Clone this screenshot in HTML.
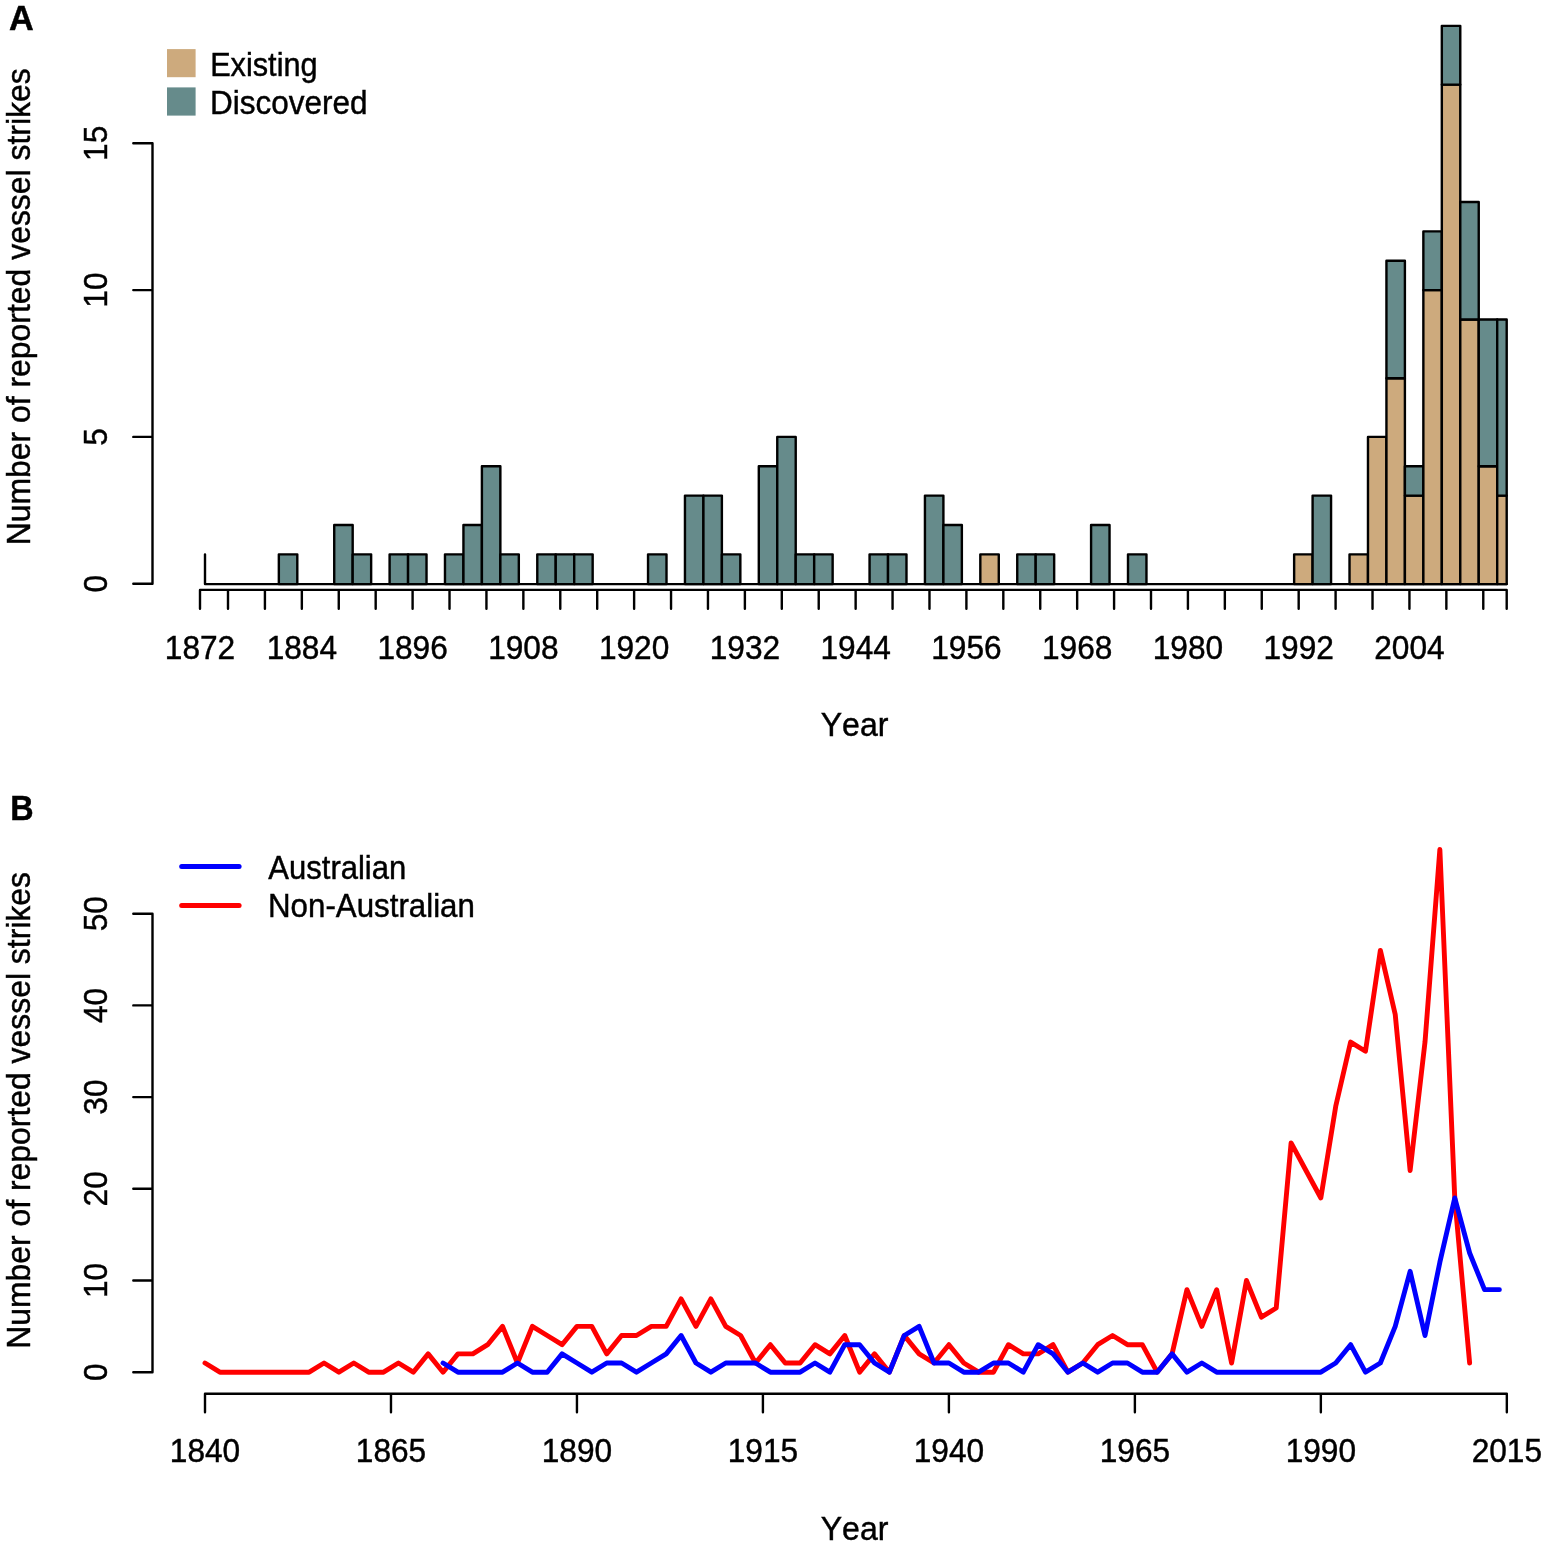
<!DOCTYPE html>
<html lang="en"><head><meta charset="utf-8"><title>Reported vessel strikes</title>
<style>html,body{margin:0;padding:0;background:#fff}svg{display:block}</style></head>
<body><svg width="1547" height="1546" viewBox="0 0 1547 1546">
<rect width="1547" height="1546" fill="#fff"/>
<g stroke="#000" stroke-width="2.4" stroke-linejoin="round" stroke-linecap="round">
<path d="M205.0 554.34V584.1H1506.7" fill="none"/>
<rect x="278.84" y="554.34" width="18.46" height="29.76" fill="#668B8B"/>
<rect x="334.22" y="524.98" width="18.46" height="59.12" fill="#668B8B"/>
<rect x="352.68" y="554.34" width="18.46" height="29.76" fill="#668B8B"/>
<rect x="389.60" y="554.34" width="18.46" height="29.76" fill="#668B8B"/>
<rect x="408.06" y="554.34" width="18.46" height="29.76" fill="#668B8B"/>
<rect x="444.98" y="554.34" width="18.46" height="29.76" fill="#668B8B"/>
<rect x="463.44" y="524.98" width="18.46" height="59.12" fill="#668B8B"/>
<rect x="481.90" y="466.26" width="18.46" height="117.84" fill="#668B8B"/>
<rect x="500.36" y="554.34" width="18.46" height="29.76" fill="#668B8B"/>
<rect x="537.28" y="554.34" width="18.46" height="29.76" fill="#668B8B"/>
<rect x="555.74" y="554.34" width="18.46" height="29.76" fill="#668B8B"/>
<rect x="574.20" y="554.34" width="18.46" height="29.76" fill="#668B8B"/>
<rect x="648.04" y="554.34" width="18.46" height="29.76" fill="#668B8B"/>
<rect x="684.96" y="495.62" width="18.46" height="88.48" fill="#668B8B"/>
<rect x="703.42" y="495.62" width="18.46" height="88.48" fill="#668B8B"/>
<rect x="721.88" y="554.34" width="18.46" height="29.76" fill="#668B8B"/>
<rect x="758.80" y="466.26" width="18.46" height="117.84" fill="#668B8B"/>
<rect x="777.26" y="436.90" width="18.46" height="147.20" fill="#668B8B"/>
<rect x="795.72" y="554.34" width="18.46" height="29.76" fill="#668B8B"/>
<rect x="814.18" y="554.34" width="18.46" height="29.76" fill="#668B8B"/>
<rect x="869.56" y="554.34" width="18.46" height="29.76" fill="#668B8B"/>
<rect x="888.02" y="554.34" width="18.46" height="29.76" fill="#668B8B"/>
<rect x="924.94" y="495.62" width="18.46" height="88.48" fill="#668B8B"/>
<rect x="943.40" y="524.98" width="18.46" height="59.12" fill="#668B8B"/>
<rect x="980.32" y="554.34" width="18.46" height="29.76" fill="#CDAA7D"/>
<rect x="1017.24" y="554.34" width="18.46" height="29.76" fill="#668B8B"/>
<rect x="1035.70" y="554.34" width="18.46" height="29.76" fill="#668B8B"/>
<rect x="1091.08" y="524.98" width="18.46" height="59.12" fill="#668B8B"/>
<rect x="1128.00" y="554.34" width="18.46" height="29.76" fill="#668B8B"/>
<rect x="1294.14" y="554.34" width="18.46" height="29.76" fill="#CDAA7D"/>
<rect x="1312.60" y="495.62" width="18.46" height="88.48" fill="#668B8B"/>
<rect x="1349.52" y="554.34" width="18.46" height="29.76" fill="#CDAA7D"/>
<rect x="1367.98" y="436.90" width="18.46" height="147.20" fill="#CDAA7D"/>
<rect x="1386.44" y="378.18" width="18.46" height="205.92" fill="#CDAA7D"/>
<rect x="1386.44" y="260.74" width="18.46" height="117.44" fill="#668B8B"/>
<rect x="1404.90" y="495.62" width="18.46" height="88.48" fill="#CDAA7D"/>
<rect x="1404.90" y="466.26" width="18.46" height="29.36" fill="#668B8B"/>
<rect x="1423.36" y="290.10" width="18.46" height="294.00" fill="#CDAA7D"/>
<rect x="1423.36" y="231.38" width="18.46" height="58.72" fill="#668B8B"/>
<rect x="1441.82" y="84.58" width="18.46" height="499.52" fill="#CDAA7D"/>
<rect x="1441.82" y="25.86" width="18.46" height="58.72" fill="#668B8B"/>
<rect x="1460.28" y="319.46" width="18.46" height="264.64" fill="#CDAA7D"/>
<rect x="1460.28" y="202.02" width="18.46" height="117.44" fill="#668B8B"/>
<rect x="1478.74" y="466.26" width="18.46" height="117.84" fill="#CDAA7D"/>
<rect x="1478.74" y="319.46" width="18.46" height="146.80" fill="#668B8B"/>
<rect x="1497.20" y="495.62" width="9.50" height="88.48" fill="#CDAA7D"/>
<rect x="1497.20" y="319.46" width="9.50" height="176.16" fill="#668B8B"/>
</g>
<g stroke="#000" stroke-width="2.4" fill="none" stroke-linecap="round" stroke-linejoin="round">
<path d="M152.5 143.30V583.7M133.3 583.70H152.5M133.3 436.90H152.5M133.3 290.10H152.5M133.3 143.30H152.5"/>
<path d="M200 589.9H1506.7M200.00 589.9V608.8M228.00 589.9V608.8M264.92 589.9V608.8M301.84 589.9V608.8M338.76 589.9V608.8M375.68 589.9V608.8M412.60 589.9V608.8M449.52 589.9V608.8M486.44 589.9V608.8M523.36 589.9V608.8M560.28 589.9V608.8M597.20 589.9V608.8M634.12 589.9V608.8M671.04 589.9V608.8M707.96 589.9V608.8M744.88 589.9V608.8M781.80 589.9V608.8M818.72 589.9V608.8M855.64 589.9V608.8M892.56 589.9V608.8M929.48 589.9V608.8M966.40 589.9V608.8M1003.32 589.9V608.8M1040.24 589.9V608.8M1077.16 589.9V608.8M1114.08 589.9V608.8M1151.00 589.9V608.8M1187.92 589.9V608.8M1224.84 589.9V608.8M1261.76 589.9V608.8M1298.68 589.9V608.8M1335.60 589.9V608.8M1372.52 589.9V608.8M1409.44 589.9V608.8M1446.36 589.9V608.8M1483.28 589.9V608.8M1506.70 589.9V608.8"/>
</g>
<g font-family='"Liberation Sans", Arial, Helvetica, sans-serif' font-size="32.5" fill="#000" stroke="#000" stroke-width="0.45" style="font-kerning:none">
<text x="9.07" y="29.90" font-size="34.3" font-weight="bold" textLength="24.74" lengthAdjust="spacingAndGlyphs">A</text>
<text x="210.17" y="75.80" textLength="107.44" lengthAdjust="spacingAndGlyphs">Existing</text>
<text x="210.11" y="114.20" textLength="157.48" lengthAdjust="spacingAndGlyphs">Discovered</text>
<text transform="translate(107.30 583.70) rotate(-90)" text-anchor="middle" font-size="33.5" textLength="17.59" lengthAdjust="spacingAndGlyphs">0</text>
<text transform="translate(107.30 436.90) rotate(-90)" text-anchor="middle" font-size="33.5" textLength="17.59" lengthAdjust="spacingAndGlyphs">5</text>
<text transform="translate(107.30 290.10) rotate(-90)" text-anchor="middle" font-size="33.5" textLength="35.18" lengthAdjust="spacingAndGlyphs">10</text>
<text transform="translate(107.30 143.30) rotate(-90)" text-anchor="middle" font-size="33.5" textLength="35.18" lengthAdjust="spacingAndGlyphs">15</text>
<text transform="translate(30.10 545.33) rotate(-90)" textLength="477.03" lengthAdjust="spacingAndGlyphs">Number of reported vessel strikes</text>
<text x="200.00" y="659.00" text-anchor="middle" font-size="33.5" textLength="70.35" lengthAdjust="spacingAndGlyphs">1872</text>
<text x="301.84" y="659.00" text-anchor="middle" font-size="33.5" textLength="70.35" lengthAdjust="spacingAndGlyphs">1884</text>
<text x="412.60" y="659.00" text-anchor="middle" font-size="33.5" textLength="70.35" lengthAdjust="spacingAndGlyphs">1896</text>
<text x="523.36" y="659.00" text-anchor="middle" font-size="33.5" textLength="70.35" lengthAdjust="spacingAndGlyphs">1908</text>
<text x="634.12" y="659.00" text-anchor="middle" font-size="33.5" textLength="70.35" lengthAdjust="spacingAndGlyphs">1920</text>
<text x="744.88" y="659.00" text-anchor="middle" font-size="33.5" textLength="70.35" lengthAdjust="spacingAndGlyphs">1932</text>
<text x="855.64" y="659.00" text-anchor="middle" font-size="33.5" textLength="70.35" lengthAdjust="spacingAndGlyphs">1944</text>
<text x="966.40" y="659.00" text-anchor="middle" font-size="33.5" textLength="70.35" lengthAdjust="spacingAndGlyphs">1956</text>
<text x="1077.16" y="659.00" text-anchor="middle" font-size="33.5" textLength="70.35" lengthAdjust="spacingAndGlyphs">1968</text>
<text x="1187.92" y="659.00" text-anchor="middle" font-size="33.5" textLength="70.35" lengthAdjust="spacingAndGlyphs">1980</text>
<text x="1298.68" y="659.00" text-anchor="middle" font-size="33.5" textLength="70.35" lengthAdjust="spacingAndGlyphs">1992</text>
<text x="1409.44" y="659.00" text-anchor="middle" font-size="33.5" textLength="70.35" lengthAdjust="spacingAndGlyphs">2004</text>
<text x="820.72" y="736.20" textLength="67.66" lengthAdjust="spacingAndGlyphs">Year</text>
</g>
<rect x="167" y="49.1" width="28.6" height="28.1" fill="#CDAA7D"/>
<rect x="167" y="87.4" width="28.6" height="28.2" fill="#668B8B"/>
<polyline points="205.00,1363.03 219.88,1372.20 234.76,1372.20 249.63,1372.20 264.51,1372.20 279.39,1372.20 294.27,1372.20 309.15,1372.20 324.02,1363.03 338.90,1372.20 353.78,1363.03 368.66,1372.20 383.54,1372.20 398.41,1363.03 413.29,1372.20 428.17,1353.86 443.05,1372.20 457.93,1353.86 472.80,1353.86 487.68,1344.69 502.56,1326.35 517.44,1363.03 532.32,1326.35 547.19,1335.52 562.07,1344.69 576.95,1326.35 591.83,1326.35 606.71,1353.86 621.58,1335.52 636.46,1335.52 651.34,1326.35 666.22,1326.35 681.10,1298.84 695.97,1326.35 710.85,1298.84 725.73,1326.35 740.61,1335.52 755.49,1363.03 770.36,1344.69 785.24,1363.03 800.12,1363.03 815.00,1344.69 829.88,1353.86 844.75,1335.52 859.63,1372.20 874.51,1353.86 889.39,1372.20 904.27,1335.52 919.14,1353.86 934.02,1363.03 948.90,1344.69 963.78,1363.03 978.66,1372.20 993.53,1372.20 1008.41,1344.69 1023.29,1353.86 1038.17,1353.86 1053.05,1344.69 1067.92,1372.20 1082.80,1363.03 1097.68,1344.69 1112.56,1335.52 1127.44,1344.69 1142.31,1344.69 1157.19,1372.20 1172.07,1353.86 1186.95,1289.67 1201.83,1326.35 1216.70,1289.67 1231.58,1363.03 1246.46,1280.50 1261.34,1317.18 1276.22,1308.01 1291.09,1142.95 1305.97,1170.46 1320.85,1197.97 1335.73,1106.27 1350.61,1042.08 1365.48,1051.25 1380.36,950.38 1395.24,1014.57 1410.12,1170.46 1425.00,1042.08 1439.87,849.51 1454.75,1197.97 1469.63,1363.03" fill="none" stroke="#FF0000" stroke-width="4.9" stroke-linejoin="round" stroke-linecap="round"/>
<polyline points="443.05,1363.03 457.93,1372.20 472.80,1372.20 487.68,1372.20 502.56,1372.20 517.44,1363.03 532.32,1372.20 547.19,1372.20 562.07,1353.86 576.95,1363.03 591.83,1372.20 606.71,1363.03 621.58,1363.03 636.46,1372.20 651.34,1363.03 666.22,1353.86 681.10,1335.52 695.97,1363.03 710.85,1372.20 725.73,1363.03 740.61,1363.03 755.49,1363.03 770.36,1372.20 785.24,1372.20 800.12,1372.20 815.00,1363.03 829.88,1372.20 844.75,1344.69 859.63,1344.69 874.51,1363.03 889.39,1372.20 904.27,1335.52 919.14,1326.35 934.02,1363.03 948.90,1363.03 963.78,1372.20 978.66,1372.20 993.53,1363.03 1008.41,1363.03 1023.29,1372.20 1038.17,1344.69 1053.05,1353.86 1067.92,1372.20 1082.80,1363.03 1097.68,1372.20 1112.56,1363.03 1127.44,1363.03 1142.31,1372.20 1157.19,1372.20 1172.07,1353.86 1186.95,1372.20 1201.83,1363.03 1216.70,1372.20 1231.58,1372.20 1246.46,1372.20 1261.34,1372.20 1276.22,1372.20 1291.09,1372.20 1305.97,1372.20 1320.85,1372.20 1335.73,1363.03 1350.61,1344.69 1365.48,1372.20 1380.36,1363.03 1395.24,1326.35 1410.12,1271.33 1425.00,1335.52 1439.87,1262.16 1454.75,1197.97 1469.63,1252.99 1484.51,1289.67 1499.39,1289.67" fill="none" stroke="#0000FF" stroke-width="4.9" stroke-linejoin="round" stroke-linecap="round"/>
<path d="M181.7 866.6H239.1" stroke="#0000FF" stroke-width="5" stroke-linecap="round"/>
<path d="M181.7 905.4H239.1" stroke="#FF0000" stroke-width="5" stroke-linecap="round"/>
<g stroke="#000" stroke-width="2.4" fill="none" stroke-linecap="round" stroke-linejoin="round">
<path d="M152.5 913.70V1372.20M133.3 1372.20H152.5M133.3 1280.50H152.5M133.3 1188.80H152.5M133.3 1097.10H152.5M133.3 1005.40H152.5M133.3 913.70H152.5M205.00 1393.7H1506.83M205.00 1393.7V1412.2M390.98 1393.7V1412.2M576.95 1393.7V1412.2M762.92 1393.7V1412.2M948.90 1393.7V1412.2M1134.88 1393.7V1412.2M1320.85 1393.7V1412.2M1506.83 1393.7V1412.2"/>
</g>
<g font-family='"Liberation Sans", Arial, Helvetica, sans-serif' font-size="32.5" fill="#000" stroke="#000" stroke-width="0.45" style="font-kerning:none">
<text x="10.22" y="819.70" font-size="34.3" font-weight="bold" textLength="23.38" lengthAdjust="spacingAndGlyphs">B</text>
<text x="268.37" y="878.70" textLength="137.88" lengthAdjust="spacingAndGlyphs">Australian</text>
<text x="268.02" y="917.40" textLength="206.86" lengthAdjust="spacingAndGlyphs">Non-Australian</text>
<text transform="translate(107.30 1372.20) rotate(-90)" text-anchor="middle" font-size="33.5" textLength="17.59" lengthAdjust="spacingAndGlyphs">0</text>
<text transform="translate(107.30 1280.50) rotate(-90)" text-anchor="middle" font-size="33.5" textLength="35.18" lengthAdjust="spacingAndGlyphs">10</text>
<text transform="translate(107.30 1188.80) rotate(-90)" text-anchor="middle" font-size="33.5" textLength="35.18" lengthAdjust="spacingAndGlyphs">20</text>
<text transform="translate(107.30 1097.10) rotate(-90)" text-anchor="middle" font-size="33.5" textLength="35.18" lengthAdjust="spacingAndGlyphs">30</text>
<text transform="translate(107.30 1005.40) rotate(-90)" text-anchor="middle" font-size="33.5" textLength="35.18" lengthAdjust="spacingAndGlyphs">40</text>
<text transform="translate(107.30 913.70) rotate(-90)" text-anchor="middle" font-size="33.5" textLength="35.18" lengthAdjust="spacingAndGlyphs">50</text>
<text transform="translate(30.10 1348.73) rotate(-90)" textLength="476.73" lengthAdjust="spacingAndGlyphs">Number of reported vessel strikes</text>
<text x="205.00" y="1461.90" text-anchor="middle" font-size="33.5" textLength="70.35" lengthAdjust="spacingAndGlyphs">1840</text>
<text x="390.98" y="1461.90" text-anchor="middle" font-size="33.5" textLength="70.35" lengthAdjust="spacingAndGlyphs">1865</text>
<text x="576.95" y="1461.90" text-anchor="middle" font-size="33.5" textLength="70.35" lengthAdjust="spacingAndGlyphs">1890</text>
<text x="762.92" y="1461.90" text-anchor="middle" font-size="33.5" textLength="70.35" lengthAdjust="spacingAndGlyphs">1915</text>
<text x="948.90" y="1461.90" text-anchor="middle" font-size="33.5" textLength="70.35" lengthAdjust="spacingAndGlyphs">1940</text>
<text x="1134.88" y="1461.90" text-anchor="middle" font-size="33.5" textLength="70.35" lengthAdjust="spacingAndGlyphs">1965</text>
<text x="1320.85" y="1461.90" text-anchor="middle" font-size="33.5" textLength="70.35" lengthAdjust="spacingAndGlyphs">1990</text>
<text x="1506.83" y="1461.90" text-anchor="middle" font-size="33.5" textLength="70.35" lengthAdjust="spacingAndGlyphs">2015</text>
<text x="820.72" y="1539.80" textLength="67.66" lengthAdjust="spacingAndGlyphs">Year</text>
</g>
</svg></body></html>
